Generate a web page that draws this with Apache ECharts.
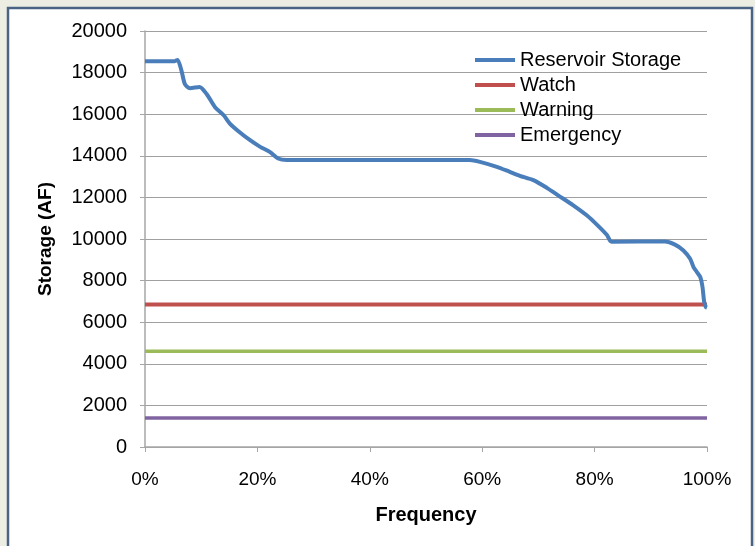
<!DOCTYPE html>
<html>
<head>
<meta charset="utf-8">
<script src="https://cdn.jsdelivr.net/npm/echarts@6/dist/echarts.min.js"></script>
<style>
  html, body { margin: 0; padding: 0; background: #eceee3; }
  #chart { width: 755px; height: 546px; }
</style>
</head>
<body>
<div id="chart"></div>
<script>
// Exceedance frequency (%) and reservoir storage (AF)
const frequency = [0, 5.3, 5.8, 6.5, 7.1, 8.0, 9.7, 11.0, 12.5, 14.0, 15.1, 16.9, 18.7, 20.5, 22.2, 23.7, 25.2,
  57.8, 59.6, 62.6, 64.9, 66.7, 69.1, 71.5, 73.5, 76.2, 78.6, 80.4, 82.2, 83.0,
  92.5, 94.3, 95.8, 97.0, 97.6, 98.2, 98.8, 99.2, 99.5, 99.8, 100];
const storage = [18550, 18550, 18610, 18080, 17450, 17250, 17310, 16960, 16320, 15950, 15550, 15120, 14750, 14430, 14190, 13870, 13800,
  13800, 13710, 13470, 13230, 13040, 12830, 12460, 12100, 11620, 11140, 10690, 10190, 9870,
  9880, 9730, 9450, 9050, 8650, 8410, 8170, 7690, 6970, 6730, 6700];

// Drought stage trigger levels (AF)
const watchLevel = 6850;
const warningLevel = 4600;
const emergencyLevel = 1400;

const xTicks = [0, 20, 40, 60, 80, 100];
const yTicks = [0, 2000, 4000, 6000, 8000, 10000, 12000, 14000, 16000, 18000, 20000];

const seriesNames = ['Reservoir Storage', 'Watch', 'Warning', 'Emergency'];
const seriesColors = ['#4a7ebb', '#c0504d', '#9bbb59', '#8064a2'];

const storagePoints = frequency.map((f, i) => [f, storage[i]]);
const flat = v => [[xTicks[0], v], [xTicks[xTicks.length - 1], v]];

const chart = echarts.init(document.getElementById('chart'), null, { renderer: 'canvas' });

const font = '"Liberation Sans", Arial, sans-serif';

chart.setOption({
  backgroundColor: '#eceee3',
  animation: false,
  graphic: [{
    type: 'rect',
    z: -10,
    shape: { x: 8, y: 8, width: 744, height: 560 },
    style: { fill: '#ffffff', stroke: '#4a6384', lineWidth: 2.5 }
  }],
  grid: { left: 145, right: 48, top: 31, bottom: 99 },
  legend: {
    orient: 'vertical',
    left: 470,
    top: 45,
    itemWidth: 40,
    itemHeight: 4,
    itemGap: 5,
    icon: 'rect',
    data: seriesNames,
    textStyle: { fontFamily: font, fontSize: 20, color: '#000', lineHeight: 20 }
  },
  xAxis: {
    type: 'value',
    min: xTicks[0],
    max: xTicks[xTicks.length - 1],
    interval: 20,
    name: 'Frequency',
    nameLocation: 'middle',
    nameGap: 58,
    nameTextStyle: { fontFamily: font, fontSize: 20, fontWeight: 'bold', color: '#000' },
    axisLine: { show: true, lineStyle: { color: '#a6a6a6', width: 1.5 } },
    axisTick: { show: true, length: 5, lineStyle: { color: '#a6a6a6' } },
    splitLine: { show: false },
    axisLabel: {
      margin: 23,
      fontFamily: font, fontSize: 19, color: '#000',
      formatter: v => v + '%'
    }
  },
  yAxis: {
    type: 'value',
    min: yTicks[0],
    max: yTicks[yTicks.length - 1],
    interval: 2000,
    name: 'Storage (AF)',
    nameLocation: 'middle',
    nameRotate: 90,
    nameGap: 90,
    nameTextStyle: { fontFamily: font, fontSize: 19, fontWeight: 'bold', color: '#000' },
    axisLine: { show: true, lineStyle: { color: '#a6a6a6', width: 1.5 } },
    axisTick: { show: true, length: 5, lineStyle: { color: '#a6a6a6' } },
    splitLine: { show: true, lineStyle: { color: '#a0a0a0', width: 1 } },
    axisLabel: {
      margin: 18, fontFamily: font, fontSize: 20, color: '#000',
      formatter: v => String(v)
    }
  },
  series: [
    {
      name: seriesNames[0], type: 'line', data: storagePoints,
      showSymbol: false, smooth: 0.25, z: 5,
      color: seriesColors[0],
      lineStyle: { width: 4, color: seriesColors[0] }
    },
    {
      name: seriesNames[1], type: 'line', data: flat(watchLevel),
      showSymbol: false, z: 4, color: seriesColors[1],
      lineStyle: { width: 4, color: seriesColors[1] }
    },
    {
      name: seriesNames[2], type: 'line', data: flat(warningLevel),
      showSymbol: false, z: 4, color: seriesColors[2],
      lineStyle: { width: 3.5, color: seriesColors[2] }
    },
    {
      name: seriesNames[3], type: 'line', data: flat(emergencyLevel),
      showSymbol: false, z: 4, color: seriesColors[3],
      lineStyle: { width: 3.5, color: seriesColors[3] }
    }
  ]
});
</script>
</body>
</html>
